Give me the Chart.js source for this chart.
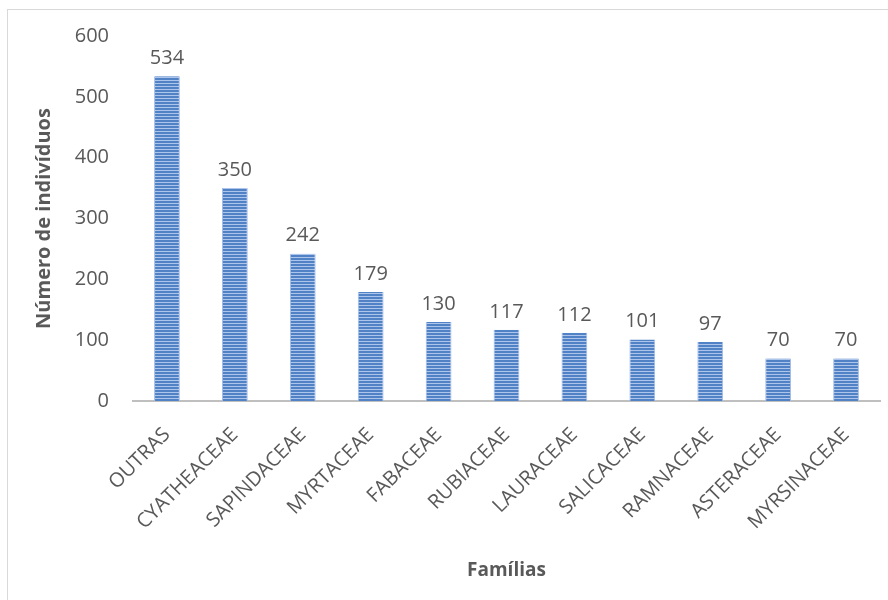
<!DOCTYPE html>
<html>
<head>
<meta charset="utf-8">
<script src="https://cdn.jsdelivr.net/npm/chart.js@4"></script>
<style>
    html, body { margin: 0; padding: 0; background: #fff; }
    #wrap { position: relative; width: 888px; height: 600px; }
    #frame { position: absolute; left: 7px; top: 9px; right: 0; bottom: 0;
             border-top: 1px solid #d9d9d9; border-left: 1px solid #d9d9d9; }
    canvas { position: absolute; left: 0; top: 0; }
</style>
</head>
<body>
<div id="wrap">
    <div id="frame"></div>
    <canvas id="displayChart" width="888" height="600"></canvas>
</div>
<script>
const familias = ['OUTRAS', 'CYATHEACEAE', 'SAPINDACEAE', 'MYRTACEAE', 'FABACEAE', 'RUBIACEAE',
    'LAURACEAE', 'SALICACEAE', 'RAMNACEAE', 'ASTERACEAE', 'MYRSINACEAE'];
const individuos = [534, 350, 242, 179, 130, 117, 112, 101, 97, 70, 70];
const yTicks = [0, 100, 200, 300, 400, 500, 600];

const textColor = '#595959';
const fontFamily = '"Open Sans", Lato, sans-serif';

// striped fill for the bars
const stripe = document.createElement('canvas');
stripe.width = 4;
stripe.height = 3;
const sctx = stripe.getContext('2d');
sctx.fillStyle = '#5282c6';
sctx.fillRect(0, 0, 4, 3);
sctx.fillStyle = '#adc5ea';
sctx.fillRect(0, 2, 4, 1);

const ctx = document.getElementById('displayChart').getContext('2d');
const barPattern = ctx.createPattern(stripe, 'repeat');

// value written above each bar
const valueLabels = {
    id: 'valueLabels',
    afterDatasetsDraw(chart) {
        const c = chart.ctx;
        const meta = chart.getDatasetMeta(0);
        c.save();
        c.font = '20px ' + fontFamily;
        c.fillStyle = textColor;
        c.textAlign = 'center';
        c.textBaseline = 'bottom';
        meta.data.forEach((bar, i) => {
            c.fillText(chart.data.datasets[0].data[i], bar.x, bar.y - 8);
        });
        c.restore();
    }
};

new Chart(ctx, {
    type: 'bar',
    data: {
        labels: familias,
        datasets: [{
            data: individuos,
            backgroundColor: barPattern,
            borderColor: '#a3bde6',
            borderWidth: { left: 1, right: 1, top: 0, bottom: 0 },
            barPercentage: 0.76,
            categoryPercentage: 0.5
        }]
    },
    options: {
        responsive: false,
        animation: false,
        layout: { padding: { left: 0, right: 8, top: 35, bottom: 0 } },
        plugins: {
            legend: { display: false },
            tooltip: { enabled: false }
        },
        scales: {
            y: {
                min: 0,
                max: 600,
                afterFit: (scale) => { scale.width = 133; },
                afterBuildTicks: (scale) => { scale.ticks = yTicks.map(v => ({ value: v })); },
                grid: { display: false, drawTicks: false },
                border: { display: false },
                ticks: {
                    padding: 24,
                    color: textColor,
                    font: { family: fontFamily, size: 20 }
                },
                title: {
                    display: true,
                    text: 'Número de indivíduos',
                    color: textColor,
                    font: { family: fontFamily, size: 20, weight: 'bold' },
                    padding: { top: 32, bottom: 0 }
                }
            },
            x: {
                afterFit: (scale) => { scale.height = 199; },
                grid: { display: false, drawTicks: false },
                border: { display: true, color: '#bfbfbf', width: 2 },
                ticks: {
                    minRotation: 45,
                    maxRotation: 45,
                    padding: 22,
                    color: textColor,
                    font: { family: fontFamily, size: 20 }
                },
                title: {
                    display: true,
                    text: 'Famílias',
                    color: textColor,
                    font: { family: fontFamily, size: 19, weight: 'bold' },
                    padding: { top: 0, bottom: 18 }
                }
            }
        }
    },
    plugins: [valueLabels]
});
</script>
</body>
</html>
